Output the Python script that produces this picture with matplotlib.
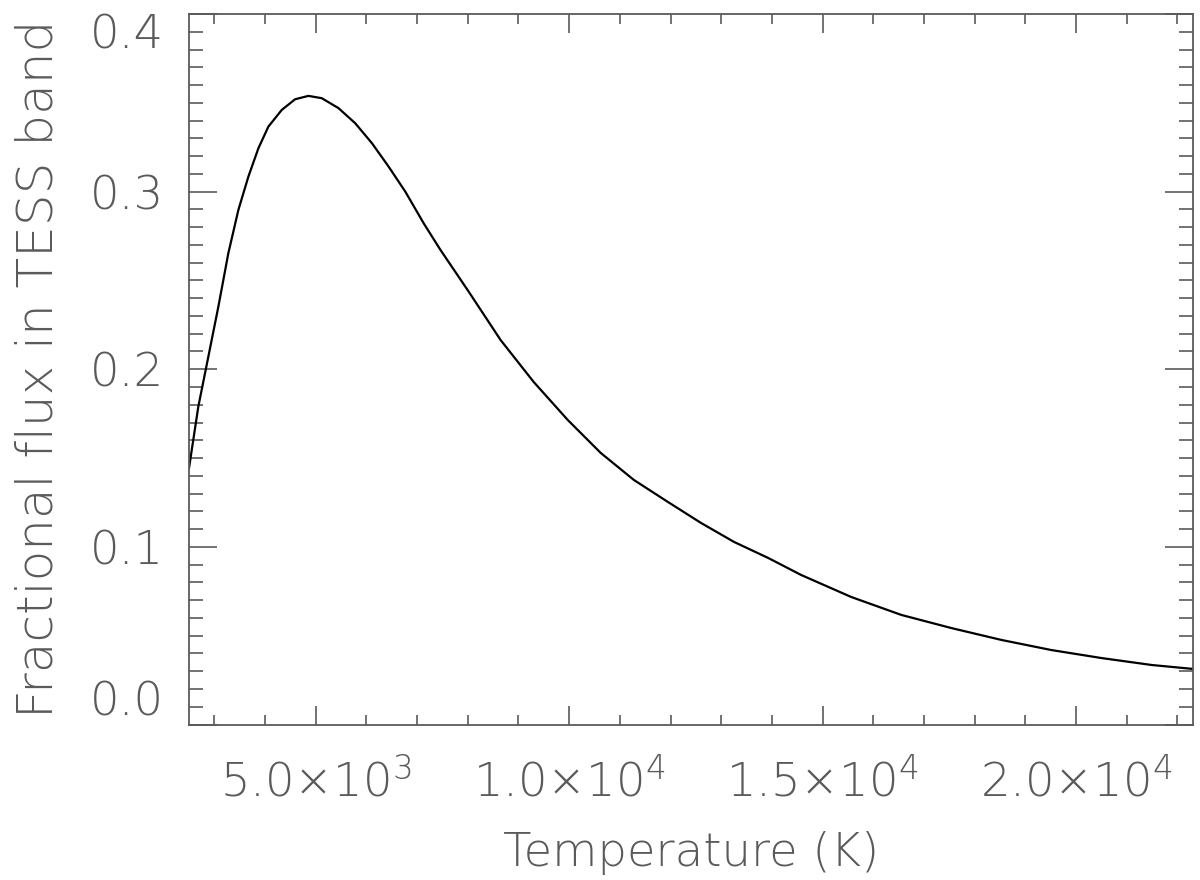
import matplotlib
matplotlib.use("Agg")
import matplotlib.pyplot as plt
from matplotlib.ticker import MultipleLocator

# values
temperature = [2500, 2684, 2881, 3079, 3276, 3474, 3671, 3869, 4066, 4330,
               4593, 4856, 5119, 5449, 5779, 6108, 6437, 6767, 7129, 7460,
               7994, 8646, 9298, 9970, 10622, 11275, 11947, 12599, 13251,
               13923, 14575, 15563, 16551, 17539, 18528, 19516, 20504,
               21492, 22300]
flux_frac = [0.1443, 0.179, 0.207, 0.2352, 0.2653, 0.2897, 0.3084, 0.3244,
             0.3366, 0.346, 0.352, 0.3539, 0.3526, 0.347, 0.3385, 0.3273,
             0.3141, 0.300, 0.2822, 0.2672, 0.2447, 0.2165, 0.1929, 0.1715,
             0.1529, 0.1377, 0.1253, 0.1135, 0.1028, 0.0938, 0.0842, 0.0718,
             0.0617, 0.0543, 0.0476, 0.0419, 0.0374, 0.0335, 0.0313]

xticks = [5000, 10000, 15000, 20000]
xticklabels = [r"5.0$\times$10$^{3}$", r"1.0$\times$10$^{4}$",
               r"1.5$\times$10$^{4}$", r"2.0$\times$10$^{4}$"]
yticks = [0.0, 0.1, 0.2, 0.3, 0.4]
yticklabels = ["0.0", "0.1", "0.2", "0.3", "0.4"]

gris = "#5a5a5a"
plt.rcParams['font.family'] = ['DejaVu Sans']
plt.rcParams['font.weight'] = 'light'
plt.rcParams['axes.labelweight'] = 'light'
plt.rcParams['mathtext.fontset'] = 'custom'
plt.rcParams['mathtext.rm'] = 'DejaVu Sans:light'
plt.rcParams['mathtext.it'] = 'DejaVu Sans:light'
plt.rcParams['mathtext.default'] = 'rm'

fig = plt.figure(figsize=(12, 8.8), dpi=100)
ax = fig.add_axes([0.1575, 0.1767, 0.8364, 0.8074])

ax.plot(temperature, flux_frac, color="black", lw=1.6)

ax.set_xlim(2500, 22300)
ax.set_ylim(0, 0.4)

ax.set_xticks(xticks)
ax.set_xticklabels(xticklabels)
ax.set_yticks(yticks)
ax.set_yticklabels(yticklabels)
ax.xaxis.set_minor_locator(MultipleLocator(1000))
ax.yaxis.set_minor_locator(MultipleLocator(0.01))

ax.tick_params(which="both", direction="in", top=True, right=True,
               color=gris, width=1.2, labelsize=33.5, labelcolor=gris)
ax.tick_params(axis="y", which="major", length=20, pad=18)
ax.tick_params(axis="y", which="minor", length=10)
ax.tick_params(axis="x", which="major", length=14, pad=24)
ax.tick_params(axis="x", which="minor", length=7)

# IDL style: end labels kept inside the axis span
ylabs = ax.get_yticklabels()
ylabs[0].set_va("bottom")
ylabs[-1].set_va("top")

for s in ax.spines.values():
    s.set_color(gris)
    s.set_linewidth(1.3)

ax.set_xlabel("Temperature (K)", fontsize=33.5, color=gris, labelpad=18,
              fontweight="light")
ax.set_ylabel("Fractional flux in TESS band", fontsize=36, color=gris,
              labelpad=20, fontweight="light")

plt.savefig("out.png", dpi=100)
